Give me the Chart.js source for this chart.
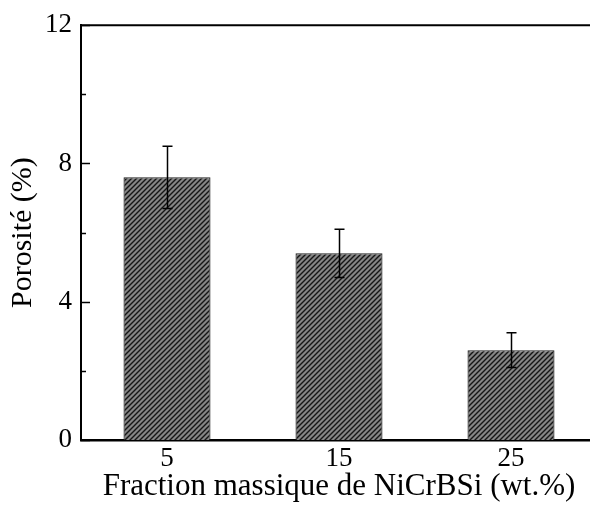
<!DOCTYPE html>
<html>
<head>
<meta charset="utf-8">
<script src="https://cdn.jsdelivr.net/npm/chart.js@4.4.1/dist/chart.umd.min.js"></script>
<style>
  html, body { margin: 0; padding: 0; background: #fff; overflow: hidden; }
  #wrap { width: 610px; height: 508px; }
</style>
</head>
<body>
<div id="wrap"><canvas id="porosityChart" width="610" height="508"></canvas></div>
<script>
const categories = ['5', '15', '25'];
const porosity = [7.6, 5.4, 2.6];
const porosityErr = [0.9, 0.7, 0.5];
const majorTicks = [0, 4, 8, 12];
const minorTicks = [2, 6, 10];

// hatched fill: gray with black diagonal stripes
function makeHatch() {
    const c = document.createElement('canvas');
    c.width = 5; c.height = 5;
    const g = c.getContext('2d');
    g.fillStyle = '#858585';
    g.fillRect(0, 0, 5, 5);
    g.strokeStyle = '#151515';
    g.lineWidth = 1.4;
    g.beginPath();
    g.moveTo(-1, 6); g.lineTo(6, -1);
    g.moveTo(-1, 1); g.lineTo(1, -1);
    g.moveTo(4, 6); g.lineTo(6, 4);
    g.stroke();
    return g.createPattern(c, 'repeat');
}

const ctx = document.getElementById('porosityChart').getContext('2d');
const hatch = makeHatch();

const framePlugin = {
    id: 'frame',
    afterDatasetsDraw(chart) {
        const c = chart.ctx;
        const area = chart.chartArea;
        const y = chart.scales.y;
        c.save();
        c.strokeStyle = '#000';
        // top border
        c.lineWidth = 2;
        c.beginPath();
        c.moveTo(area.left, area.top);
        c.lineTo(area.right, area.top);
        c.stroke();
        // inward ticks
        c.lineWidth = 1.5;
        majorTicks.forEach(v => {
            const py = Math.round(y.getPixelForValue(v)) + 0.5;
            c.beginPath(); c.moveTo(area.left, py); c.lineTo(area.left + 9, py); c.stroke();
        });
        minorTicks.forEach(v => {
            const py = Math.round(y.getPixelForValue(v)) + 0.5;
            c.beginPath(); c.moveTo(area.left, py); c.lineTo(area.left + 5, py); c.stroke();
        });
        // error bars
        const meta = chart.getDatasetMeta(0);
        c.lineWidth = 1.5;
        meta.data.forEach((bar, i) => {
            const x = Math.round(bar.x) + 0.5;
            const yTop = y.getPixelForValue(porosity[i] + porosityErr[i]);
            const yBot = y.getPixelForValue(porosity[i] - porosityErr[i]);
            c.beginPath();
            c.moveTo(x, yTop); c.lineTo(x, yBot);
            c.moveTo(x - 5, yTop); c.lineTo(x + 5, yTop);
            c.moveTo(x - 5, yBot); c.lineTo(x + 5, yBot);
            c.stroke();
        });
        c.restore();
    }
};

const porosityChart = new Chart(ctx, {
    type: 'bar',
    data: {
        labels: categories,
        datasets: [{
            label: 'Porosité',
            data: porosity,
            backgroundColor: hatch,
            borderColor: '#222',
            borderWidth: 1.2,
            categoryPercentage: 1,
            barPercentage: 0.506
        }]
    },
    options: {
        responsive: false,
        animation: false,
        layout: { padding: { top: 24, right: 13, left: 0, bottom: 0 } },
        plugins: {
            legend: { display: false },
            tooltip: { enabled: false }
        },
        scales: {
            x: {
                grid: { display: false, drawTicks: false },
                border: { color: '#000', width: 2.5 },
                ticks: {
                    color: '#000',
                    padding: 3,
                    font: { family: 'Liberation Serif', size: 27 }
                },
                title: {
                    display: true,
                    text: 'Fraction massique de NiCrBSi (wt.%)',
                    color: '#000',
                    padding: { top: 0, bottom: 3 },
                    font: { family: 'Liberation Serif', size: 31 }
                },
                afterFit(scale) { scale.height = 68; }
            },
            y: {
                min: 0,
                max: 12,
                grid: { display: false, drawTicks: false },
                border: { color: '#000', width: 2 },
                ticks: {
                    stepSize: 4,
                    color: '#000',
                    padding: 9,
                    font: { family: 'Liberation Serif', size: 27 }
                },
                title: {
                    display: true,
                    text: 'Porosité (%)',
                    color: '#000',
                    padding: { top: 5, bottom: 0 },
                    font: { family: 'Liberation Serif', size: 30 }
                },
                afterFit(scale) { scale.width = 81; }
            }
        }
    },
    plugins: [framePlugin]
});
</script>
</body>
</html>
